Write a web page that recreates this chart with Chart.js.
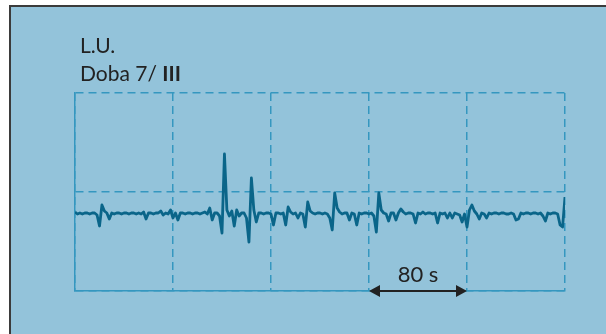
<!DOCTYPE html>
<html>
<head>
<meta charset="utf-8">
<script src="https://cdn.jsdelivr.net/npm/chart.js@4"></script>
<style>
  html,body{margin:0;padding:0;background:#fff;}
  #wrap{position:relative;width:606px;height:334px;overflow:hidden;}
  #panel{position:absolute;left:9px;top:5px;right:0;bottom:0;background:#93c3da;
    border-left:2px solid #3b3b3b;border-top:2px solid #3b3b3b;}
  #c{position:absolute;left:0;top:0;}
</style>
</head>
<body>
<div id="wrap">
  <div id="panel"></div>
  <canvas id="c" width="606" height="334"></canvas>
</div>
<script>
// trace: one sample every 2 s, amplitude in arbitrary units
const SAMPLE_STEP_S = 2;
const signal = [
  -20,-22,-21,-22,-21,-21,-22,-21,-21,-23, -34,-13,-19,-21,-27,-21,-22,-21,-21,-22,
  -21,-21,-22,-21,-21,-22,-21,-22,-20,-27, -21,-21,-22,-21,-21,-19,-23,-21,-22,-18,
  -26,-21,-28,-21,-21,-22,-21,-21,-22,-21, -21,-22,-21,-20,-22,-16,-28,-21,-21,-24,
  -41, 38,-18,-24,-19,-34,-18,-24,-21,-21, -26,-50, 14,-18,-30,-21,-21,-22,-21,-21,
  -22,-33,-21,-21,-22,-21,-33,-15,-20,-22, -21,-26,-21,-22,-35,-10,-19,-21,-22,-21,
  -21,-22,-21,-22,-26,-38, -1,-16,-20,-22, -21,-21,-28,-21,-22,-33,-21,-22,-21,-21,
  -22,-21,-24,-40, -1,-18,-21,-22,-29,-21, -21,-28,-21,-17,-20,-22,-21,-21,-22,-31,
  -21,-22,-20,-22,-21,-21,-22,-21,-31,-21, -22,-21,-26,-21,-26,-21,-22,-23,-30,-22,
  -35,-18,-13,-19,-22,-27,-21,-22,-26,-21, -22,-21,-21,-22,-21,-21,-22,-22,-21,-22,
  -28,-27,-21,-22,-21,-21,-22,-21,-21,-22, -21,-24,-29,-21,-22,-21,-21,-22,-33,-35,
  -5
];
const xTicks = [0, 80, 160, 240, 320, 400];   // s, dashed grid columns
const yTicks = [-99, 0, 99];
const titleLines = ['L.U.', 'Doba 7/ '];
const titleBold = 'III';
const scaleBar = [240, 320];                   // s
const scaleBarLabel = '80 s';

const FONT = 'Lato, "Open Sans", sans-serif';

const points = signal.map((v, i) => ({ x: i * SAMPLE_STEP_S, y: v }));

const overlay = {
  id: 'overlay',
  afterDraw(chart){
    const ctx = chart.ctx;
    const xs = chart.scales.x, ys = chart.scales.y;
    ctx.save();
    // title
    ctx.fillStyle = '#222';
    ctx.textBaseline = 'alphabetic';
    ctx.textAlign = 'left';
    ctx.font = '21px ' + FONT;
    ctx.fillText(titleLines[0], 80, 53);
    ctx.fillText(titleLines[1], 80, 81);
    const w = ctx.measureText(titleLines[1]).width;
    ctx.font = 'bold 21px ' + FONT;
    ctx.fillText(titleBold, 80 + w, 81);

    // 80 s scale bar along the bottom grid line
    const x0 = xs.getPixelForValue(scaleBar[0]);
    const x1 = xs.getPixelForValue(scaleBar[1]);
    const yb = ys.getPixelForValue(yTicks[0]);
    const ah = 11, aw = 6;
    ctx.strokeStyle = '#222';
    ctx.lineWidth = 2;
    ctx.beginPath();
    ctx.moveTo(x0 + ah, yb); ctx.lineTo(x1 - ah, yb);
    ctx.stroke();
    ctx.beginPath();
    ctx.moveTo(x0, yb); ctx.lineTo(x0 + ah, yb - aw); ctx.lineTo(x0 + ah, yb + aw); ctx.closePath();
    ctx.moveTo(x1, yb); ctx.lineTo(x1 - ah, yb - aw); ctx.lineTo(x1 - ah, yb + aw); ctx.closePath();
    ctx.fill();
    ctx.font = '22px ' + FONT;
    ctx.textAlign = 'center';
    ctx.fillText(scaleBarLabel, (x0 + x1) / 2, 282);
    ctx.restore();
  }
};

const gridStyle = {
  display: true,
  color: '#3597bf',
  lineWidth: 1.5,
  drawTicks: false
};
const borderStyle = { display: true, color: '#3597bf', width: 1.5, dash: [8, 5] };

new Chart(document.getElementById('c'), {
  type: 'line',
  data: {
    datasets: [{
      data: points,
      borderColor: '#0a6589',
      borderWidth: 2.8,
      borderJoinStyle: 'round',
      pointRadius: 0,
      tension: 0,
      fill: false
    }]
  },
  options: {
    responsive: false,
    animation: false,
    layout: { padding: { left: 75, right: 41, top: 93, bottom: 43 } },
    plugins: { legend: { display: false }, tooltip: { enabled: false } },
    scales: {
      x: {
        type: 'linear',
        min: xTicks[0], max: xTicks[xTicks.length - 1],
        afterBuildTicks: s => { s.ticks = xTicks.map(v => ({ value: v })); },
        ticks: { display: false },
        grid: gridStyle,
        border: borderStyle
      },
      y: {
        min: yTicks[0], max: yTicks[yTicks.length - 1],
        afterBuildTicks: s => { s.ticks = yTicks.map(v => ({ value: v })); },
        ticks: { display: false },
        grid: gridStyle,
        border: borderStyle
      }
    }
  },
  plugins: [overlay]
});
</script>
</body>
</html>
